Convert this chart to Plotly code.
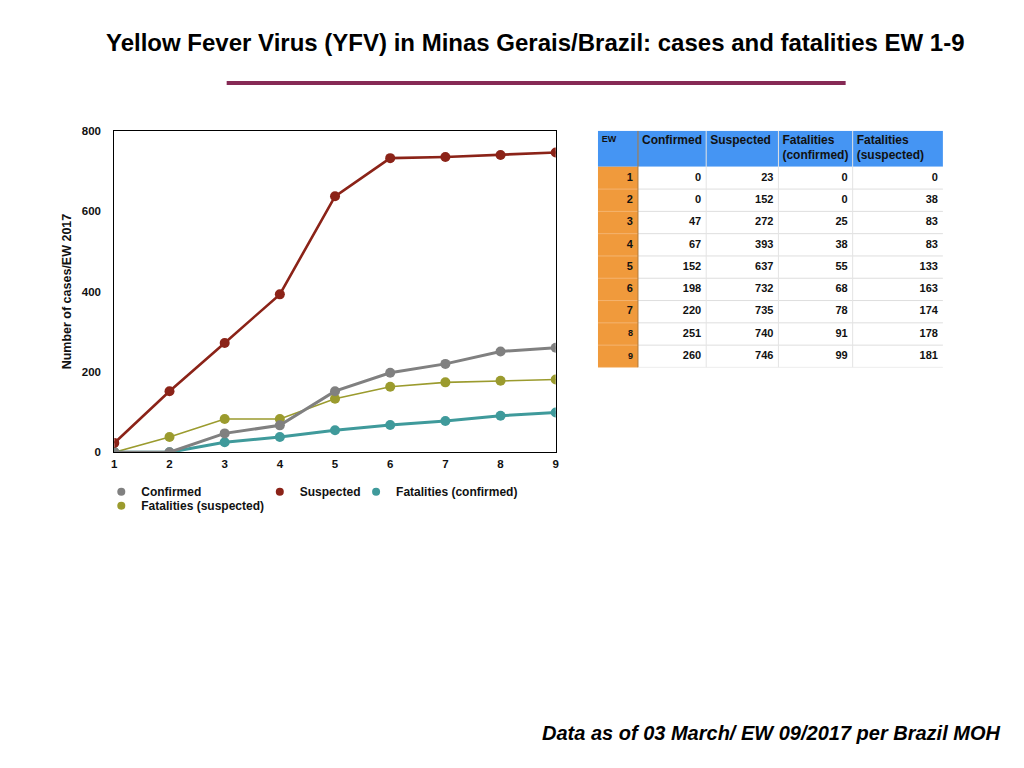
import plotly.graph_objects as go

ew = [1, 2, 3, 4, 5, 6, 7, 8, 9]
confirmed = [0, 0, 47, 67, 152, 198, 220, 251, 260]
suspected = [23, 152, 272, 393, 637, 732, 735, 740, 746]
fat_confirmed = [0, 0, 25, 38, 55, 68, 78, 91, 99]
fat_suspected = [0, 38, 83, 83, 133, 163, 174, 178, 181]

y_ticks = [0, 200, 400, 600, 800]
table_header = ["EW", "Confirmed", "Suspected", "Fatalities<br>(confirmed)", "Fatalities<br>(suspected)"]
col_widths = [40, 68, 72, 74, 90]

GRAY = "#808080"
RED = "#8b2318"
TEAL = "#3f9a9b"
OLIVE = "#9b9b2e"
FONT = "Liberation Sans, Arial, sans-serif"

W, H = 1024, 768


# the page shows the figure slightly shifted/scaled, so positions are given
# in screen pixels and converted back to paper fractions
def px(x):
    return (x - 11) / 0.991 / W


def py(y):
    return 1 - (y - 13) / 0.986 / H


fig = go.Figure()

series = [
    # name, values, colour, line width, legend
    ("Fatalities (suspected)", fat_suspected, OLIVE, 1.6, "legend4"),
    ("Fatalities (confirmed)", fat_confirmed, TEAL, 3, "legend3"),
    ("Confirmed", confirmed, GRAY, 3, "legend"),
    ("Suspected", suspected, RED, 2.6, "legend2"),
]

# drawing order: olive at the bottom, suspected on top
for name, vals, color, lw, leg in series:
    fig.add_trace(go.Scatter(
        x=ew, y=vals, name=name, mode="lines+markers",
        line=dict(color=color, width=lw), marker=dict(size=10, color=color),
        showlegend=False, legendgroup=name,
    ))
    # legend entry with a small dot symbol, like the original
    fig.add_trace(go.Scatter(
        x=[None], y=[None], name=name, mode="markers",
        marker=dict(size=8, color=color), legend=leg, legendgroup=name,
    ))

# ---- table on the right, built on a hidden axis pair (units = pixels) ----
header_h = 36
row_h = 22.3
edges = [0]
for w in col_widths:
    edges.append(edges[-1] + w)
table_w = edges[-1]
table_h = header_h + row_h * len(ew)
row_top = [header_h + row_h * i for i in range(len(ew))]
row_mid = [t + row_h / 2 for t in row_top]

shapes = [
    # header and EW column fills
    dict(type="rect", xref="x2", yref="y2", x0=0, x1=table_w, y0=0, y1=header_h,
         fillcolor="#4595f3", line_width=0, layer="below"),
    dict(type="rect", xref="x2", yref="y2", x0=edges[1], x1=table_w, y0=header_h, y1=table_h,
         fillcolor="white", line_width=0, layer="below"),
    dict(type="rect", xref="x2", yref="y2", x0=0, x1=edges[1], y0=header_h, y1=table_h,
         fillcolor="#f09a3c", line_width=0, layer="below"),
]
for t in row_top[1:] + [table_h]:
    shapes.append(dict(type="line", xref="x2", yref="y2", x0=edges[1], x1=table_w, y0=t, y1=t,
                       line=dict(color="#dedede", width=1), layer="below"))
    shapes.append(dict(type="line", xref="x2", yref="y2", x0=0, x1=edges[1], y0=t, y1=t,
                       line=dict(color="#f4b470", width=1), layer="below"))
for e in edges[2:-1]:
    shapes.append(dict(type="line", xref="x2", yref="y2", x0=e, x1=e, y0=0, y1=table_h,
                       line=dict(color="#e4e4e4", width=1), layer="below"))
shapes.append(dict(type="line", xref="x2", yref="y2", x0=edges[1], x1=edges[1], y0=0, y1=table_h,
                   line=dict(color="#b07a3a", width=1), layer="below"))

# header labels
fig.add_trace(go.Scatter(
    x=[e + 4 for e in edges[:-1]], y=[4] * len(table_header),
    text=[f"<b>{h}</b>" for h in table_header], mode="text", textposition="bottom right",
    textfont=dict(family=FONT, size=[9, 12, 12, 12, 12], color="#111111"),
    xaxis="x2", yaxis="y2", showlegend=False, hoverinfo="skip", cliponaxis=False,
))
# body cells
columns = [ew, confirmed, suspected, fat_confirmed, fat_suspected]
for ci, col in enumerate(columns):
    sizes = [11 if (ci > 0 or v < 8) else 9 for v in col]
    fig.add_trace(go.Scatter(
        x=[edges[ci + 1] - 5] * len(col), y=row_mid,
        text=[f"<b>{v}</b>" for v in col], mode="text", textposition="middle left",
        textfont=dict(family=FONT, size=sizes, color="#111111"),
        xaxis="x2", yaxis="y2", showlegend=False, hoverinfo="skip", cliponaxis=False,
    ))

shapes.append(dict(
    type="line", xref="paper", yref="paper",
    x0=px(226), x1=px(843), y0=py(82), y1=py(82),
    line=dict(color="#862a55", width=4),
))

legend_common = dict(
    orientation="v", yanchor="top", xanchor="left",
    bgcolor="rgba(0,0,0,0)", itemclick=False, itemdoubleclick=False,
    font=dict(family=FONT, size=12, color="#111111", weight="bold"),
    tracegroupgap=0, itemwidth=30,
)
leg_y1 = py(477)
leg_y2 = py(491)

fig.update_layout(
    width=W,
    height=H,
    margin=dict(l=0, r=0, t=0, b=0),
    paper_bgcolor="white",
    plot_bgcolor="white",
    font=dict(family=FONT, color="#111111"),
    showlegend=True,
    legend=dict(x=px(101), y=leg_y1, **legend_common),
    legend2=dict(x=px(259), y=leg_y1, **legend_common),
    legend3=dict(x=px(355), y=leg_y1, **legend_common),
    legend4=dict(x=px(101), y=leg_y2, **legend_common),
    xaxis=dict(
        domain=[px(114), px(554)],
        range=[1, 9],
        tickvals=ew,
        tickfont=dict(size=11.5, family=FONT, color="#111111", weight="bold"),
        showgrid=False, zeroline=False,
        showline=True, linecolor="black", linewidth=1, mirror=True,
        ticks="", ticklabelstandoff=1,
    ),
    yaxis=dict(
        domain=[py(452), py(130)],
        range=[0, 800],
        tickvals=y_ticks,
        tickfont=dict(size=11.5, family=FONT, color="#111111", weight="bold"),
        showgrid=False, zeroline=False,
        showline=True, linecolor="black", linewidth=1, mirror=True,
        ticks="", ticklabelstandoff=10,
        title=dict(text="Number of cases/EW 2017",
                   font=dict(size=12.5, family=FONT, weight="bold"), standoff=7),
    ),
    xaxis2=dict(domain=[px(596), px(940)], range=[0, table_w], visible=False, fixedrange=True),
    yaxis2=dict(domain=[py(367), py(130)], range=[table_h, 0], visible=False, fixedrange=True),
    shapes=shapes,
    annotations=[
        dict(
            text="Yellow Fever Virus (YFV) in Minas Gerais/Brazil: cases and fatalities EW 1-9",
            xref="paper", yref="paper", x=px(534), y=py(42),
            xanchor="center", yanchor="middle", showarrow=False,
            font=dict(family=FONT, size=24, color="black", weight="bold"),
        ),
        dict(
            text="<i>Data as of 03 March/ EW 09/2017 per Brazil MOH</i>",
            xref="paper", yref="paper", x=px(1000), y=py(733),
            xanchor="right", yanchor="middle", showarrow=False,
            font=dict(family=FONT, size=20, color="black", weight="bold"),
        ),
    ],
)

fig.write_html("out.html")
